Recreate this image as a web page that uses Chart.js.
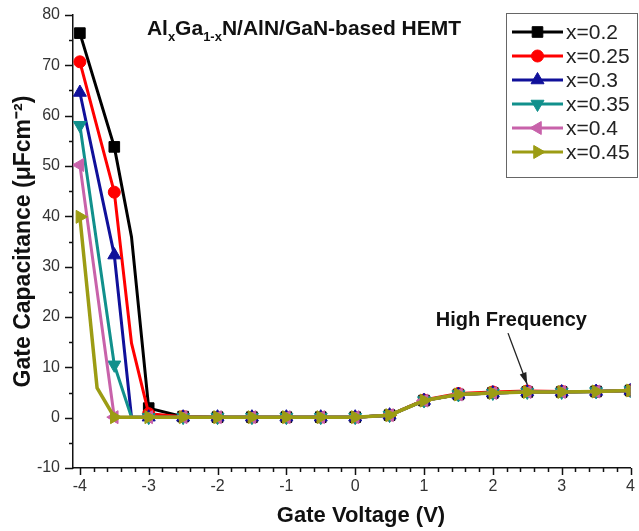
<!DOCTYPE html>
<html>
<head>
<meta charset="utf-8">
<script src="https://cdn.jsdelivr.net/npm/chart.js@4.4.1/dist/chart.umd.min.js"></script>
<style>
html, body { margin: 0; padding: 0; background: #fff; }
#wrap { width: 639px; height: 531px; }
</style>
</head>
<body>
<div id="wrap"><canvas id="c" width="639" height="531"></canvas></div>
<script>
// gate voltage where the markers sit
var voltage = [-4, -3.5, -3, -2.5, -2, -1.5, -1, -0.5, 0, 0.5, 1, 1.5, 2, 2.5, 3, 3.5, 4];
// gate capacitance per Al fraction
var cap020 = [76.4, 53.8, 1.9, 0.2, 0.1, 0.1, 0.1, 0.1, 0.1, 0.5, 3.4, 4.6, 4.9, 5.1, 5.1, 5.2, 5.4];
var cap025 = [70.7, 44.8, 0.8, 0.2, 0.1, 0.1, 0.1, 0.1, 0.1, 0.5, 3.5, 4.8, 5.1, 5.3, 5.2, 5.2, 5.4];
var cap030 = [64.6, 32.3, 0.1, 0.1, 0.1, 0.1, 0.1, 0.1, 0.1, 0.5, 3.4, 4.6, 4.9, 5.1, 5.1, 5.2, 5.4];
var cap035 = [58.1, 10.5, 0.1, 0.1, 0.1, 0.1, 0.1, 0.1, 0.1, 0.5, 3.4, 4.6, 4.9, 5.1, 5.1, 5.2, 5.4];
var cap040 = [50.2, 0.1, 0.1, 0.1, 0.1, 0.1, 0.1, 0.1, 0.1, 0.5, 3.4, 4.6, 4.9, 5.1, 5.1, 5.2, 5.4];
var cap045 = [39.9, 0.1, 0.1, 0.1, 0.1, 0.1, 0.1, 0.1, 0.1, 0.5, 3.4, 4.6, 4.9, 5.1, 5.1, 5.2, 5.4];
// extra points (no marker) where the curves bend
var bendV020 = [-3.25], bendC020 = [35.9];
var bendV025 = [-3.25], bendC025 = [14.8];
var bendV030 = [-3.25], bendC030 = [0.1];
var bendV035 = [-3.25], bendC035 = [0.1];
var bendV040 = [], bendC040 = [];
var bendV045 = [-3.75], bendC045 = [5.9];

var seriesNames = ['x=0.2', 'x=0.25', 'x=0.3', 'x=0.35', 'x=0.4', 'x=0.45'];
var xTicks = [-4, -3, -2, -1, 0, 1, 2, 3, 4];
var yTicks = [-10, 0, 10, 20, 30, 40, 50, 60, 70, 80];

var colors = ['#000000', '#ff0000', '#10109a', '#11908c', '#c862aa', '#9c9c14'];
var shapes = ['rect', 'circle', 'triangle', 'triangle', 'triangle', 'triangle'];
var turns = [0, 0, 0, 180, 270, 90];
var sizes = [7.5, 6, 7.5, 7.5, 7.5, 7.5];

var caps = [cap020, cap025, cap030, cap035, cap040, cap045];
var bendsV = [bendV020, bendV025, bendV030, bendV035, bendV040, bendV045];
var bendsC = [bendC020, bendC025, bendC030, bendC035, bendC040, bendC045];

var FONT = "'Liberation Sans', Arial, sans-serif";

function buildSet(i) {
    var pts = voltage.map(function(v, k) { return {x: v, y: caps[i][k], m: true}; });
    bendsV[i].forEach(function(v, k) { pts.push({x: v, y: bendsC[i][k], m: false}); });
    pts.sort(function(a, b) { return a.x - b.x; });
    return {
        label: seriesNames[i],
        data: pts.map(function(p) { return {x: p.x, y: p.y}; }),
        pointRadius: pts.map(function(p) { return p.m ? sizes[i] : 0; }),
        borderColor: colors[i],
        backgroundColor: colors[i],
        pointBackgroundColor: colors[i],
        pointBorderColor: colors[i],
        pointBorderWidth: 1,
        pointStyle: shapes[i],
        pointRotation: turns[i],
        borderWidth: i == 5 ? 3.5 : 3,
        tension: 0,
        order: 5 - i
    };
}

function marker(ctx, i, x, y) {
    var opts = {pointStyle: shapes[i], rotation: turns[i], radius: sizes[i], borderWidth: 1};
    ctx.save();
    ctx.fillStyle = colors[i];
    ctx.strokeStyle = colors[i];
    ctx.lineWidth = 1;
    Chart.helpers.drawPoint(ctx, opts, x, y);
    ctx.restore();
}

var extras = {
    id: 'extras',
    afterDraw: function(chart) {
        var ctx = chart.ctx;
        var xs = chart.scales.x, ys = chart.scales.y;
        var ax = chart.chartArea;
        ctx.save();
        // tick marks (outward)
        ctx.strokeStyle = '#111';
        ctx.lineWidth = 1.5;
        ctx.beginPath();
        for (var k = 0; k <= 40; k++) {
            var v = -4 + k * 0.2;
            var px = Math.round(xs.getPixelForValue(v)) + 0.5;
            var len = (k % 5 == 0) ? 7 : 4;
            ctx.moveTo(px, ax.bottom);
            ctx.lineTo(px, ax.bottom + len);
        }
        for (var j = 0; j <= 18; j++) {
            var w = -10 + j * 5;
            var py = Math.round(ys.getPixelForValue(w)) + 0.5;
            var l2 = (j % 2 == 0) ? 8 : 4;
            ctx.moveTo(ax.left, py);
            ctx.lineTo(ax.left - l2, py);
        }
        ctx.stroke();

        // x axis title
        ctx.font = 'bold 22px ' + FONT;
        ctx.fillStyle = '#111';
        ctx.textAlign = 'center';
        ctx.textBaseline = 'middle';
        ctx.fillText('Gate Voltage (V)', 361, 516);

        // title with subscripts
        var parts = [['Al', 0], ['x', 1], ['Ga', 0], ['1-x', 1], ['N/AlN/GaN-based HEMT', 0]];
        var big = 'bold 21px ' + FONT, small = 'bold 13px ' + FONT;
        var total = 0;
        parts.forEach(function(p) { ctx.font = p[1] ? small : big; total += ctx.measureText(p[0]).width; });
        var tx = 304 - total / 2, ty = 35;
        ctx.textBaseline = 'alphabetic';
        ctx.textAlign = 'left';
        parts.forEach(function(p) {
            ctx.font = p[1] ? small : big;
            ctx.fillText(p[0], tx, ty + (p[1] ? 6 : 0));
            tx += ctx.measureText(p[0]).width;
        });

        // legend box
        ctx.fillStyle = '#fff';
        ctx.fillRect(506.5, 13.5, 131, 164);
        ctx.strokeStyle = '#666';
        ctx.lineWidth = 1;
        ctx.strokeRect(506.5, 13.5, 131, 164);
        ctx.font = '21px ' + FONT;
        ctx.textBaseline = 'middle';
        for (var i = 0; i < seriesNames.length; i++) {
            var ly = 32 + i * 24;
            ctx.strokeStyle = colors[i];
            ctx.lineWidth = 3;
            ctx.beginPath();
            ctx.moveTo(512, ly);
            ctx.lineTo(563, ly);
            ctx.stroke();
            marker(ctx, i, 537.5, ly);
            ctx.fillStyle = '#222';
            ctx.fillText(seriesNames[i], 566, ly + 1);
        }

        // "High Frequency" arrow
        var x0 = xs.getPixelForValue(2.22), y0 = ys.getPixelForValue(16.8);
        var x1 = xs.getPixelForValue(2.5), y1 = ys.getPixelForValue(6.6);
        ctx.strokeStyle = '#222';
        ctx.fillStyle = '#222';
        ctx.lineWidth = 1.3;
        ctx.beginPath();
        ctx.moveTo(x0, y0);
        ctx.lineTo(x1, y1);
        ctx.stroke();
        var ang = Math.atan2(y1 - y0, x1 - x0);
        ctx.beginPath();
        ctx.moveTo(x1, y1);
        ctx.lineTo(x1 - 12 * Math.cos(ang) + 3.5 * Math.sin(ang), y1 - 12 * Math.sin(ang) - 3.5 * Math.cos(ang));
        ctx.lineTo(x1 - 12 * Math.cos(ang) - 3.5 * Math.sin(ang), y1 - 12 * Math.sin(ang) + 3.5 * Math.cos(ang));
        ctx.closePath();
        ctx.fill();
        ctx.font = 'bold 20px ' + FONT;
        ctx.textAlign = 'center';
        ctx.textBaseline = 'middle';
        ctx.fillStyle = '#111';
        ctx.fillText('High Frequency', xs.getPixelForValue(2.27), ys.getPixelForValue(19.4));
        ctx.restore();
    }
};

new Chart(document.getElementById('c'), {
    type: 'line',
    data: { datasets: caps.map(function(c, i) { return buildSet(i); }) },
    options: {
        responsive: false,
        animation: false,
        layout: { padding: { top: 15, right: 4, bottom: 0, left: 0 } },
        plugins: { legend: { display: false }, tooltip: { enabled: false } },
        scales: {
            x: {
                type: 'linear',
                min: -4.1,
                max: 4,
                afterBuildTicks: function(s) { s.ticks = xTicks.map(function(v) { return {value: v}; }); },
                afterFit: function(s) { s.height = 63; s.paddingRight = 4; s.paddingLeft = 0; },
                grid: { display: false, drawTicks: false },
                border: { display: true, color: '#111', width: 1.5 },
                ticks: { font: { size: 16, family: FONT }, color: '#333', padding: 9, maxRotation: 0 },
                title: { display: false }
            },
            y: {
                min: -10,
                max: 80,
                afterBuildTicks: function(s) { s.ticks = yTicks.map(function(v) { return {value: v}; }); },
                afterFit: function(s) { s.width = 73; s.paddingTop = 0; s.paddingBottom = 0; },
                grid: { display: false, drawTicks: false },
                border: { display: true, color: '#111', width: 1.5 },
                ticks: { font: { size: 16, family: FONT }, color: '#333', padding: 13 },
                title: {
                    display: true,
                    text: 'Gate Capacitance (\u03bcFcm\u207b\u00b2)',
                    font: { size: 23, weight: 'bold', family: FONT },
                    color: '#111',
                    padding: { top: 10, bottom: 0 }
                }
            }
        }
    },
    plugins: [extras]
});
</script>
</body>
</html>
